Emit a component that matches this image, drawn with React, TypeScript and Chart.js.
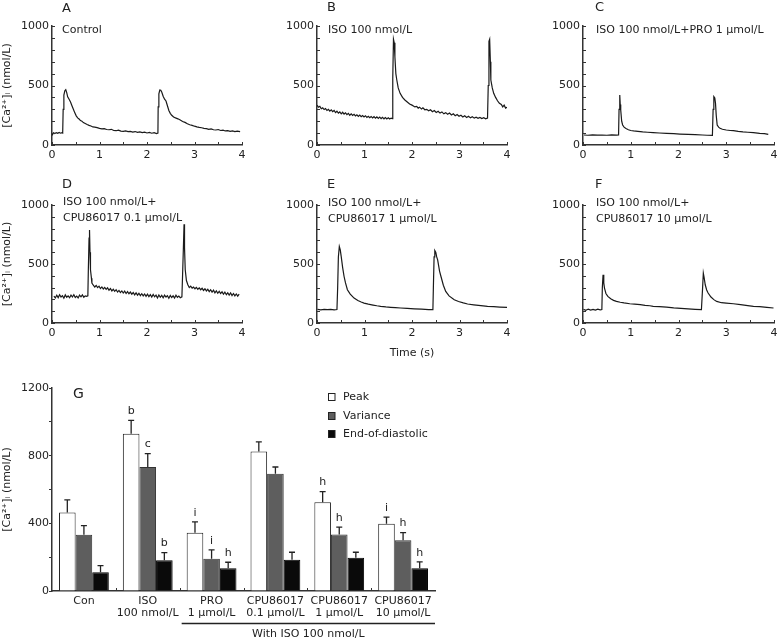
import React, { useEffect, useRef } from 'react';
import { Chart, registerables } from 'chart.js';

Chart.register(...registerables);

const FONT = '"DejaVu Sans", "Liberation Sans", sans-serif';
const INK = '#222222';

type Pt = [number, number];

// ---------- Calcium transient traces (time s, [Ca2+]i nmol/L) ----------
const traceControl: Pt[] = [
  [0, 80], [0.03, 102], [0.06, 96], [0.09, 104], [0.12, 98], [0.15, 106], [0.18, 99], [0.21, 103], [0.225, 100],
  [0.235, 300], [0.25, 420], [0.27, 455], [0.29, 465], [0.31, 440], [0.33, 405], [0.36, 385], [0.39, 362],
  [0.42, 330], [0.45, 300], [0.48, 270], [0.51, 245], [0.54, 228], [0.57, 218], [0.6, 205], [0.63, 200],
  [0.66, 188], [0.7, 180], [0.74, 172], [0.78, 165], [0.82, 160], [0.86, 152], [0.9, 150], [0.95, 146],
  [1.0, 140], [1.05, 136], [1.1, 138], [1.15, 130], [1.2, 128], [1.25, 132], [1.3, 122], [1.35, 120],
  [1.4, 125], [1.45, 117], [1.5, 114], [1.55, 118], [1.6, 112], [1.65, 115], [1.7, 109], [1.75, 113],
  [1.8, 106], [1.85, 110], [1.9, 104], [1.95, 108], [2.0, 101], [2.05, 106], [2.1, 99], [2.15, 103],
  [2.2, 96], [2.23, 100], [2.235, 320], [2.25, 430], [2.27, 462], [2.29, 460], [2.31, 445], [2.34, 410],
  [2.37, 385], [2.4, 370], [2.43, 330], [2.46, 290], [2.49, 266], [2.52, 250], [2.56, 235], [2.6, 228],
  [2.65, 220], [2.7, 210], [2.75, 198], [2.8, 190], [2.85, 178], [2.9, 170], [2.95, 165], [3.0, 158],
  [3.05, 152], [3.1, 148], [3.15, 145], [3.2, 140], [3.25, 138], [3.3, 132], [3.35, 135], [3.4, 128],
  [3.45, 126], [3.5, 130], [3.55, 122], [3.6, 125], [3.65, 118], [3.7, 121], [3.75, 115], [3.8, 119],
  [3.85, 113], [3.9, 117], [3.96, 112],
];

const traceIso: Pt[] = [
  [0, 335], [0.03, 318], [0.06, 325], [0.09, 305], [0.12, 312], [0.15, 298], [0.18, 306], [0.21, 290],
  [0.24, 300], [0.27, 284], [0.3, 295], [0.33, 280], [0.36, 290], [0.39, 272], [0.42, 284], [0.45, 268],
  [0.48, 278], [0.51, 262], [0.54, 275], [0.57, 260], [0.6, 270], [0.63, 255], [0.66, 266], [0.69, 250],
  [0.72, 262], [0.75, 248], [0.78, 258], [0.81, 244], [0.84, 254], [0.87, 240], [0.9, 252], [0.93, 238],
  [0.96, 248], [0.99, 236], [1.02, 246], [1.05, 232], [1.08, 242], [1.11, 230], [1.14, 240], [1.17, 228],
  [1.2, 238], [1.23, 226], [1.26, 236], [1.29, 224], [1.32, 234], [1.35, 222], [1.38, 232], [1.41, 220],
  [1.44, 230], [1.47, 219], [1.5, 228], [1.53, 218], [1.56, 226], [1.585, 222], [1.595, 560], [1.61, 888],
  [1.625, 860], [1.64, 742], [1.66, 600], [1.68, 546], [1.71, 480], [1.75, 434], [1.8, 400], [1.85, 378],
  [1.9, 362], [1.95, 345], [2.0, 335], [2.03, 328], [2.06, 320], [2.1, 325], [2.13, 310], [2.16, 318],
  [2.2, 302], [2.23, 312], [2.27, 296], [2.31, 300], [2.35, 288], [2.39, 296], [2.43, 280], [2.47, 290],
  [2.51, 274], [2.55, 284], [2.59, 268], [2.63, 278], [2.67, 262], [2.71, 272], [2.75, 258], [2.79, 268],
  [2.83, 252], [2.87, 262], [2.91, 246], [2.95, 256], [2.99, 242], [3.03, 250], [3.07, 236], [3.11, 246],
  [3.15, 232], [3.19, 242], [3.23, 228], [3.27, 238], [3.31, 226], [3.35, 234], [3.39, 224], [3.43, 232],
  [3.47, 222], [3.51, 230], [3.55, 220], [3.59, 226], [3.605, 500], [3.62, 870], [3.635, 888], [3.65, 700],
  [3.66, 546], [3.69, 480], [3.72, 434], [3.76, 400], [3.8, 372], [3.84, 350], [3.88, 340], [3.91, 320],
  [3.94, 335], [3.97, 310], [4.0, 318],
];

const traceIsoPro: Pt[] = [
  [0.02, 84], [0.1, 82], [0.2, 85], [0.3, 83], [0.4, 84], [0.5, 82], [0.6, 85], [0.7, 83], [0.745, 84],
  [0.755, 300], [0.77, 420], [0.78, 340], [0.79, 294], [0.81, 200], [0.83, 168], [0.86, 150], [0.9, 138],
  [0.95, 128], [1.0, 122], [1.06, 118], [1.15, 114], [1.25, 110], [1.35, 107], [1.47, 104], [1.6, 101],
  [1.75, 98], [1.9, 95], [2.03, 92], [2.2, 89], [2.35, 87], [2.5, 84], [2.6, 82], [2.71, 81], [2.725, 300],
  [2.74, 406], [2.76, 395], [2.775, 350], [2.79, 250], [2.81, 168], [2.84, 150], [2.87, 140], [2.92, 132],
  [3.0, 126], [3.08, 122], [3.15, 120], [3.25, 114], [3.35, 110], [3.45, 107], [3.57, 104], [3.7, 98],
  [3.8, 95], [3.88, 90],
];

const traceCpu01: Pt[] = [
  [0.04, 228], [0.07, 212], [0.1, 235], [0.13, 215], [0.16, 240], [0.19, 220], [0.22, 232], [0.25, 210],
  [0.28, 238], [0.31, 218], [0.34, 230], [0.37, 214], [0.4, 236], [0.43, 220], [0.46, 240], [0.49, 216],
  [0.52, 228], [0.55, 212], [0.58, 236], [0.61, 222], [0.64, 238], [0.67, 218], [0.7, 230], [0.73, 226],
  [0.755, 230], [0.765, 450], [0.78, 720], [0.79, 789], [0.8, 600], [0.81, 451], [0.83, 380], [0.84, 338],
  [0.87, 320], [0.9, 305], [0.93, 318], [0.96, 300], [0.99, 312], [1.02, 292], [1.05, 306], [1.08, 288],
  [1.11, 302], [1.14, 285], [1.17, 298], [1.2, 278], [1.23, 292], [1.26, 272], [1.29, 286], [1.32, 268],
  [1.35, 282], [1.38, 262], [1.41, 276], [1.44, 258], [1.47, 272], [1.5, 254], [1.53, 270], [1.56, 250],
  [1.59, 266], [1.62, 248], [1.65, 262], [1.68, 244], [1.71, 258], [1.74, 238], [1.77, 255], [1.8, 236],
  [1.83, 252], [1.86, 232], [1.89, 248], [1.92, 230], [1.95, 246], [1.98, 226], [2.01, 244], [2.04, 224],
  [2.07, 240], [2.1, 220], [2.13, 242], [2.16, 222], [2.19, 236], [2.22, 212], [2.25, 238], [2.28, 218],
  [2.31, 234], [2.34, 214], [2.37, 236], [2.4, 220], [2.43, 232], [2.46, 210], [2.49, 234], [2.52, 216],
  [2.55, 230], [2.58, 212], [2.61, 236], [2.64, 218], [2.67, 228], [2.7, 214], [2.735, 222], [2.75, 420],
  [2.765, 620], [2.78, 837], [2.79, 640], [2.805, 451], [2.83, 360], [2.86, 324], [2.89, 300], [2.92, 312],
  [2.95, 296], [2.98, 304], [3.01, 290], [3.04, 302], [3.07, 286], [3.1, 298], [3.13, 282], [3.16, 294],
  [3.19, 276], [3.22, 290], [3.25, 272], [3.28, 286], [3.31, 266], [3.34, 282], [3.37, 262], [3.4, 278],
  [3.43, 256], [3.46, 272], [3.49, 252], [3.52, 268], [3.55, 250], [3.58, 264], [3.61, 244], [3.64, 262],
  [3.67, 240], [3.7, 256], [3.73, 236], [3.76, 254], [3.79, 232], [3.82, 250], [3.85, 230], [3.88, 246],
  [3.91, 228], [3.94, 244],
];

const traceCpu1: Pt[] = [
  [0.01, 115], [0.08, 112], [0.15, 116], [0.22, 113], [0.29, 115], [0.36, 112], [0.42, 114], [0.435, 300],
  [0.45, 560], [0.47, 648], [0.49, 620], [0.51, 563], [0.54, 470], [0.57, 394], [0.6, 340], [0.64, 282],
  [0.7, 245], [0.78, 211], [0.86, 190], [0.93, 178], [0.99, 169], [1.08, 160], [1.18, 152], [1.26, 146],
  [1.34, 141], [1.45, 136], [1.55, 133], [1.65, 130], [1.76, 127], [1.9, 124], [2.05, 120], [2.2, 117],
  [2.35, 114], [2.44, 113], [2.45, 300], [2.465, 560], [2.48, 614], [2.5, 600], [2.52, 560], [2.54, 535],
  [2.58, 440], [2.61, 394], [2.66, 320], [2.71, 268], [2.78, 230], [2.89, 197], [2.98, 182], [3.08, 170],
  [3.17, 161], [3.3, 154], [3.45, 147], [3.59, 141], [3.72, 138], [3.85, 135], [4.0, 132],
];

const traceCpu10: Pt[] = [
  [0.01, 115], [0.06, 108], [0.11, 118], [0.16, 110], [0.21, 116], [0.26, 109], [0.31, 117], [0.36, 111],
  [0.395, 114], [0.405, 300], [0.42, 408], [0.435, 340], [0.45, 296], [0.48, 250], [0.52, 225], [0.58, 205],
  [0.64, 192], [0.7, 183], [0.78, 176], [0.86, 170], [0.98, 163], [1.08, 160], [1.2, 155], [1.3, 150],
  [1.4, 146], [1.47, 141], [1.6, 138], [1.75, 134], [1.9, 128], [2.05, 124], [2.2, 120], [2.35, 116],
  [2.48, 113], [2.505, 300], [2.52, 423], [2.535, 390], [2.56, 324], [2.59, 280], [2.62, 254], [2.68, 220],
  [2.74, 198], [2.8, 183], [2.9, 172], [3.0, 168], [3.15, 163], [3.3, 155], [3.45, 147], [3.57, 141],
  [3.7, 138], [3.85, 132], [3.99, 127],
];

// ---------- Panel G: summary bar data ----------
const groupLabels: string[][] = [
  ['Con'], ['ISO', '100 nmol/L'], ['PRO', '1 μmol/L'],
  ['CPU86017', '0.1 μmol/L'], ['CPU86017', '1 μmol/L'], ['CPU86017', '10 μmol/L'],
];
const peakValues = [464, 930, 345, 825, 525, 397];
const varianceValues = [332, 733, 191, 693, 334, 300];
const endDiastolicValues = [111, 182, 134, 184, 197, 134];
const peakErrors = [75, 79, 64, 56, 63, 40];
const varianceErrors = [55, 79, 52, 40, 43, 45];
const endDiastolicErrors = [39, 45, 36, 45, 32, 38];
const peakMarks = ['', 'b', 'i', '', 'h', 'i'];
const varianceMarks = ['', 'c', 'i', '', 'h', 'h'];
const endDiastolicMarks = ['', 'b', 'h', '', '', 'h'];
const seriesNames = ['Peak', 'Variance', 'End-of-diastolic'];
const seriesColors = ['#ffffff', '#5e5e5e', '#0a0a0a'];

const Y_TITLE = '[Ca²⁺]ᵢ (nmol/L)';

type TextItem = { text: string; x: number; y: number; size?: number; align?: CanvasTextAlign };

function makeTextPlugin(items: TextItem[], ox: number, oy: number) {
  return {
    id: 'panelText',
    afterDraw(chart: any) {
      const ctx = chart.ctx as CanvasRenderingContext2D;
      ctx.save();
      ctx.fillStyle = INK;
      ctx.textBaseline = 'middle';
      for (const it of items) {
        ctx.font = `${it.size ?? 11}px ${FONT}`;
        ctx.textAlign = it.align ?? 'left';
        ctx.fillText(it.text, it.x - ox, it.y - oy);
      }
      ctx.restore();
    },
  };
}

// Small tick marks drawn inward from the axis lines
const inwardTicks = {
  id: 'inwardTicks',
  afterDatasetsDraw(chart: any) {
    const ctx = chart.ctx as CanvasRenderingContext2D;
    const { left, bottom } = chart.chartArea;
    ctx.save();
    ctx.strokeStyle = '#333';
    ctx.lineWidth = 1;
    ctx.beginPath();
    const xs = chart.scales.x;
    if (xs.type === 'category') {
      const n = xs.ticks.length;
      for (let i = 1; i < n; i++) {
        const px = Math.round((xs.getPixelForTick(i - 1) + xs.getPixelForTick(i)) / 2) + 0.5;
        ctx.moveTo(px, bottom);
        ctx.lineTo(px, bottom - 3);
      }
    } else {
      xs.ticks.forEach((_t: any, i: number) => {
        const px = Math.round(xs.getPixelForTick(i)) + 0.5;
        ctx.moveTo(px, bottom);
        ctx.lineTo(px, bottom - 3);
      });
      const ys = chart.scales.y;
      ys.ticks.forEach((_t: any, i: number) => {
        const py = Math.round(ys.getPixelForTick(i)) + 0.5;
        ctx.moveTo(left, py);
        ctx.lineTo(left + 3, py);
      });
    }
    ctx.stroke();
    ctx.restore();
  },
};

type PanelSpec = {
  trace: Pt[];
  left: number; top: number; w: number; h: number;
  plotLeft: number; plotRight: number; plotTop: number; plotBottom: number;
  yTitle: boolean; xTitle: boolean;
  texts: TextItem[];
};

function LinePanel({ spec }: { spec: PanelSpec }) {
  const ref = useRef<HTMLCanvasElement>(null);
  useEffect(() => {
    const canvas = ref.current!;
    const yAxisW = spec.plotLeft - spec.left;
    const rightPad = spec.left + spec.w - spec.plotRight;
    const topPad = spec.plotTop - spec.top;
    const xAxisH = spec.top + spec.h - spec.plotBottom;
    const chart = new Chart(canvas, {
      type: 'line',
      data: {
        datasets: [{
          data: spec.trace.map(([x, y]) => ({ x, y })),
          borderColor: '#1a1a1a',
          borderWidth: 1.2,
          pointRadius: 0,
          tension: 0,
          fill: false,
        }],
      },
      options: {
        animation: false,
        responsive: false,
        maintainAspectRatio: false,
        layout: { padding: { top: topPad, right: rightPad, left: 0, bottom: 0 } },
        plugins: { legend: { display: false }, tooltip: { enabled: false } },
        scales: {
          x: {
            type: 'linear', min: 0, max: 4,
            ticks: {
              stepSize: 0.5, autoSkip: false, maxRotation: 0, padding: 3.5, color: INK,
              font: { family: FONT, size: 11 },
              callback: (v: any) => (Number.isInteger(v) ? String(v) : ''),
            },
            grid: { display: false, drawTicks: false },
            border: { color: '#333', width: 1.5 },
            title: {
              display: spec.xTitle, text: 'Time (s)', color: INK,
              font: { family: FONT, size: 11 }, padding: { top: 0, bottom: 0 },
            },
            afterFit: (s: any) => { s.height = xAxisH; },
          },
          y: {
            min: 0, max: 1000,
            ticks: {
              stepSize: 100, autoSkip: false, padding: 3, color: INK,
              font: { family: FONT, size: 11 },
              callback: (v: any) => (v % 500 === 0 ? String(v) : ''),
            },
            grid: { display: false, drawTicks: false },
            border: { color: '#333', width: 1.5 },
            title: {
              display: spec.yTitle, text: Y_TITLE, color: INK,
              font: { family: FONT, size: 11 }, padding: { top: 1, bottom: 0 },
            },
            afterFit: (s: any) => { s.width = yAxisW; },
          },
        },
      } as any,
      plugins: [inwardTicks, makeTextPlugin(spec.texts, spec.left, spec.top)],
    });
    return () => chart.destroy();
  }, []);
  return (
    <canvas
      ref={ref}
      width={spec.w}
      height={spec.h}
      style={{ position: 'absolute', left: spec.left, top: spec.top, width: spec.w, height: spec.h }}
    />
  );
}

const ROW1 = { top: 0, h: 165, plotTop: 26, plotBottom: 145 };
const ROW2 = { top: 170, h: 190, plotTop: 205, plotBottom: 323 };
const COL1 = { left: 0, w: 260, plotLeft: 52, plotRight: 242 };
const COL2 = { left: 265, w: 260, plotLeft: 317, plotRight: 507 };
const COL3 = { left: 531, w: 253, plotLeft: 583, plotRight: 774 };

const panels: PanelSpec[] = [
  {
    trace: traceControl, ...ROW1, ...COL1, yTitle: true, xTitle: false,
    texts: [{ text: 'A', x: 62, y: 9, size: 13 }, { text: 'Control', x: 62, y: 30 }],
  },
  {
    trace: traceIso, ...ROW1, ...COL2, yTitle: false, xTitle: false,
    texts: [{ text: 'B', x: 327, y: 8, size: 13 }, { text: 'ISO 100 nmol/L', x: 328, y: 30 }],
  },
  {
    trace: traceIsoPro, ...ROW1, ...COL3, yTitle: false, xTitle: false,
    texts: [{ text: 'C', x: 595, y: 8, size: 13 }, { text: 'ISO 100 nmol/L+PRO 1 μmol/L', x: 596, y: 30 }],
  },
  {
    trace: traceCpu01, ...ROW2, ...COL1, yTitle: true, xTitle: false,
    texts: [
      { text: 'D', x: 62, y: 185, size: 13 },
      { text: 'ISO 100 nmol/L+', x: 63, y: 202 },
      { text: 'CPU86017 0.1 μmol/L', x: 63, y: 218 },
    ],
  },
  {
    trace: traceCpu1, ...ROW2, ...COL2, yTitle: false, xTitle: true,
    texts: [
      { text: 'E', x: 327, y: 185, size: 13 },
      { text: 'ISO 100 nmol/L+', x: 328, y: 203 },
      { text: 'CPU86017 1 μmol/L', x: 328, y: 219 },
    ],
  },
  {
    trace: traceCpu10, ...ROW2, ...COL3, yTitle: false, xTitle: false,
    texts: [
      { text: 'F', x: 595, y: 185, size: 13 },
      { text: 'ISO 100 nmol/L+', x: 596, y: 203 },
      { text: 'CPU86017 10 μmol/L', x: 596, y: 219 },
    ],
  },
];

const BAR = { left: 0, top: 370, w: 450, h: 271, plotLeft: 52, plotRight: 435, plotTop: 388, plotBottom: 591 };

function BarPanel() {
  const ref = useRef<HTMLCanvasElement>(null);
  useEffect(() => {
    const canvas = ref.current!;
    const yAxisW = BAR.plotLeft - BAR.left;
    const rightPad = BAR.left + BAR.w - BAR.plotRight;
    const topPad = BAR.plotTop - BAR.top;
    const xAxisH = BAR.top + BAR.h - BAR.plotBottom;
    const errors = [peakErrors, varianceErrors, endDiastolicErrors];
    const marks = [peakMarks, varianceMarks, endDiastolicMarks];
    const ox = BAR.left, oy = BAR.top;

    const overlay = {
      id: 'barOverlay',
      afterDatasetsDraw(chart: any) {
        const ctx = chart.ctx as CanvasRenderingContext2D;
        const ys = chart.scales.y;
        const xs = chart.scales.x;
        ctx.save();
        ctx.strokeStyle = INK;
        ctx.fillStyle = INK;
        ctx.lineWidth = 1.3;
        ctx.font = `11px ${FONT}`;
        ctx.textAlign = 'center';
        ctx.textBaseline = 'middle';
        chart.data.datasets.forEach((ds: any, i: number) => {
          const meta = chart.getDatasetMeta(i);
          meta.data.forEach((bar: any, j: number) => {
            const v = ds.data[j];
            const top = ys.getPixelForValue(v + errors[i][j]);
            const base = ys.getPixelForValue(v);
            ctx.beginPath();
            ctx.moveTo(bar.x, base);
            ctx.lineTo(bar.x, top);
            ctx.moveTo(bar.x - 3, top);
            ctx.lineTo(bar.x + 3, top);
            ctx.stroke();
            const m = marks[i][j];
            if (m) ctx.fillText(m, bar.x, top - 9);
          });
        });
        // panel letter
        ctx.textAlign = 'left';
        ctx.font = `14px ${FONT}`;
        ctx.fillText('G', 73 - ox, 394 - oy);
        // legend
        ctx.font = `11px ${FONT}`;
        const legendY = [397, 416, 434];
        seriesNames.forEach((name, i) => {
          const cy = legendY[i] - oy;
          ctx.fillStyle = seriesColors[i];
          ctx.fillRect(328 - ox, cy - 3.5, 7, 7);
          ctx.strokeStyle = INK;
          ctx.lineWidth = 1;
          ctx.strokeRect(328.5 - ox, cy - 3.5, 6.5, 7);
          ctx.fillStyle = INK;
          ctx.fillText(name, 343 - ox, cy);
        });
        // "With ISO 100 nmol/L" bracket
        const x1 = (xs.getPixelForValue(1) + xs.getPixelForValue(2)) / 2 + 2;
        const x2 = chart.chartArea.right;
        const ly = 623.5 - oy;
        ctx.strokeStyle = INK;
        ctx.lineWidth = 1.3;
        ctx.beginPath();
        ctx.moveTo(x1, ly);
        ctx.lineTo(x2, ly);
        ctx.stroke();
        ctx.textAlign = 'center';
        ctx.fillText('With ISO 100 nmol/L', (x1 + x2) / 2, 634 - oy);
        ctx.restore();
      },
    };

    const chart = new Chart(canvas, {
      type: 'bar',
      data: {
        labels: groupLabels,
        datasets: [
          { label: seriesNames[0], data: peakValues, backgroundColor: seriesColors[0], borderColor: INK, borderWidth: 1 },
          { label: seriesNames[1], data: varianceValues, backgroundColor: seriesColors[1], borderColor: '#333', borderWidth: 1 },
          { label: seriesNames[2], data: endDiastolicValues, backgroundColor: seriesColors[2], borderColor: '#000', borderWidth: 1 },
        ],
      },
      options: {
        animation: false,
        responsive: false,
        maintainAspectRatio: false,
        layout: { padding: { top: topPad, right: rightPad, left: 0, bottom: 0 } },
        plugins: { legend: { display: false }, tooltip: { enabled: false } },
        datasets: { bar: { categoryPercentage: 0.78, barPercentage: 1 } },
        scales: {
          x: {
            ticks: {
              autoSkip: false, maxRotation: 0, minRotation: 0, padding: 3.7, color: INK,
              font: { family: FONT, size: 11, lineHeight: 1.09 },
            },
            grid: { display: false, drawTicks: false, offset: true },
            border: { color: '#333', width: 1.5 },
            afterFit: (s: any) => { s.height = xAxisH; },
          },
          y: {
            min: 0, max: 1200,
            ticks: {
              stepSize: 200, autoSkip: false, padding: 0, color: INK,
              font: { family: FONT, size: 11 },
              callback: (v: any) => (v % 400 === 0 ? String(v) : ''),
            },
            grid: { drawOnChartArea: false, tickLength: 3, tickColor: '#333' },
            border: { color: '#333', width: 1.5 },
            title: {
              display: true, text: Y_TITLE, color: INK,
              font: { family: FONT, size: 11 }, padding: { top: 1, bottom: 0 },
            },
            afterFit: (s: any) => { s.width = yAxisW; },
          },
        },
      } as any,
      plugins: [inwardTicks, overlay],
    });
    return () => chart.destroy();
  }, []);
  return (
    <canvas
      ref={ref}
      width={BAR.w}
      height={BAR.h}
      style={{ position: 'absolute', left: BAR.left, top: BAR.top, width: BAR.w, height: BAR.h }}
    />
  );
}

export default function App() {
  return (
    <div style={{ position: 'absolute', left: 0, top: 0, width: 784, height: 641, background: '#ffffff', overflow: 'hidden' }}>
      {panels.map((p, i) => (
        <LinePanel key={i} spec={p} />
      ))}
      <BarPanel />
    </div>
  );
}
